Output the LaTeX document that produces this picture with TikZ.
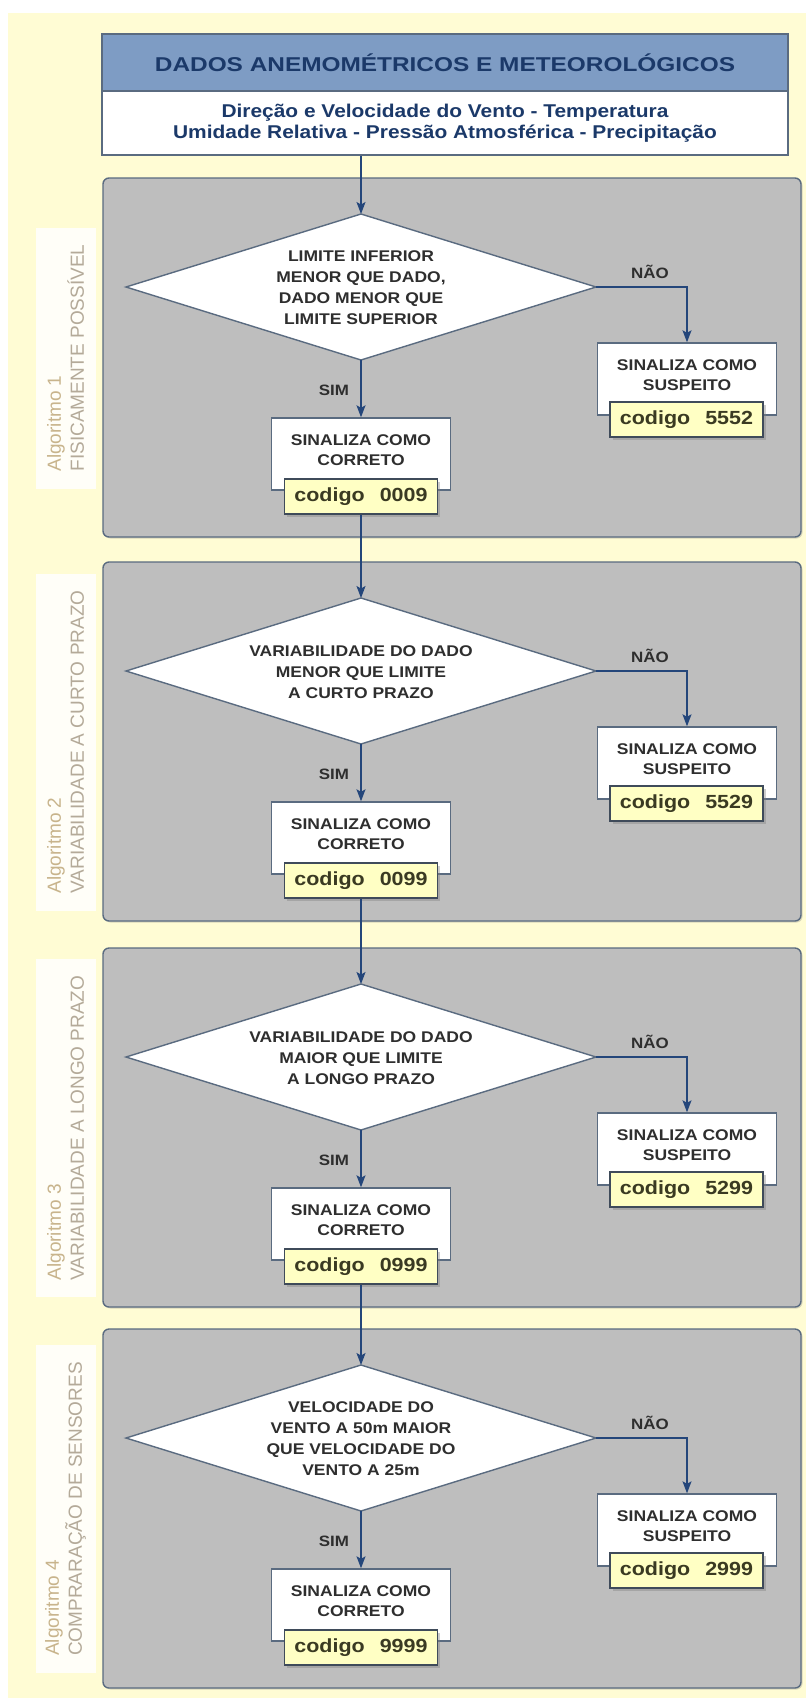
\documentclass[tikz,border=0pt]{standalone}
\usepackage{fontspec}
\setmainfont{Liberation Sans}[FakeStretch=1.13]
\newfontfamily\fonttitulo{Liberation Sans}[FakeStretch=1.22]
\newfontfamily\fontpainel{Liberation Sans}
\usetikzlibrary{arrows.meta,shadows}

\definecolor{fundo}{HTML}{FFFCD4}
\definecolor{faixa}{HTML}{7E9CC4}
\definecolor{tituloazul}{HTML}{1B3969}
\definecolor{borda}{HTML}{5A6B80}
\definecolor{cinzagrupo}{HTML}{BEBEBE}
\definecolor{ligacao}{HTML}{24467A}
\definecolor{textoescuro}{HTML}{2E2E2E}
\definecolor{amarelocod}{HTML}{FFFFC4}
\definecolor{textocod}{HTML}{3A3A22}
\definecolor{ouro}{HTML}{C8B48C}
\definecolor{bege}{HTML}{B4AA99}

% one algorithm block: #1 index, #2 y of the decision centre,
% #3 second panel line, #4 question, #5 suspect code, #6 correct code
\newcommand{\blocoalg}[6]{%
  \node[grupo] (g#1) at (452,#2+70.5) {};
  \node[painel] (p#1) at (65.5,#2+71)
    {\textcolor{ouro}{Algoritmo #1}\\\textcolor{bege}{#3}};
  % decision diamond
  \coordinate (dt#1) at (361,#2-73);
  \coordinate (dr#1) at (596,#2);
  \coordinate (db#1) at (361,#2+73);
  \coordinate (dl#1) at (126,#2);
  \draw[losango] (dt#1) -- (dr#1) -- (db#1) -- (dl#1) -- cycle;
  \node[textolosango] (dx#1) at (361,#2+1) {#4};
  % suspect branch
  \node[caixa] (s#1) at (687,#2+92) {};
  \node[textocaixa] (st#1) at (687,#2+88) {SINALIZA COMO\\SUSPEITO};
  \node[codigo] (sk#1) at (686.5,#2+132.5) {codigo\hspace{15pt}#5};
  % correct branch
  \node[caixa] (c#1) at (361,#2+167) {};
  \node[textocaixa] (ct#1) at (361,#2+163) {SINALIZA COMO\\CORRETO};
  \node[codigo] (ck#1) at (361,#2+209.5) {codigo\hspace{15pt}#6};
  \node[rotulo] (n#1) at (650,#2-15) {NÃO};
  \node[rotulo] (y#1) at (334,#2+103) {SIM};
  \draw[conn] (dr#1) -| (s#1.north);
  \draw[conn] (db#1) -- (c#1.north);
}

\begin{document}
\begin{tikzpicture}[x=1pt,y=-1pt,
  conn/.style={draw=ligacao, line width=1.3pt,
    -{Stealth[length=12pt,width=9pt,inset=2.5pt]}},
  grupo/.style={draw=borda, fill=cinzagrupo, line width=1.4pt,
    rounded corners=6pt, minimum width=698pt, minimum height=359pt,
    drop shadow={shadow xshift=1.5pt, shadow yshift=-1.5pt, opacity=0.3}},
  painel/.style={rotate=90, fill=white, fill opacity=0.85, text opacity=1,
    align=left, inner xsep=17pt, inner ysep=3pt, minimum height=60pt,
    font=\fontpainel\fontsize{19}{23}\selectfont},
  losango/.style={draw=borda, fill=white, line width=1.4pt},
  textolosango/.style={align=center, inner sep=0pt, text=textoescuro,
    font=\bfseries\fontsize{15.5}{21}\selectfont},
  caixa/.style={draw=borda, fill=white, line width=1.4pt,
    minimum width=179pt, minimum height=72pt, inner sep=0pt},
  textocaixa/.style={align=center, inner sep=0pt, text=textoescuro,
    font=\bfseries\fontsize{15.5}{20}\selectfont},
  codigo/.style={draw=borda!70!black, fill=amarelocod, line width=1.2pt,
    minimum width=153pt, minimum height=35pt, inner sep=0pt,
    text=textocod, font=\bfseries\fontsize{19}{22}\selectfont,
    drop shadow={shadow xshift=2.5pt, shadow yshift=-2.5pt, opacity=0.4}},
  rotulo/.style={text=textoescuro, inner sep=0pt,
    font=\bfseries\fontsize{15}{18}\selectfont},
  faixatitulo/.style={draw=borda, fill=faixa, line width=1.4pt,
    minimum width=686pt, minimum height=57pt, inner sep=0pt,
    text=tituloazul, font=\fonttitulo\bfseries\fontsize{20}{24}\selectfont},
  corpotitulo/.style={draw=borda, fill=white, line width=1.4pt,
    minimum width=686pt, minimum height=64pt, inner sep=0pt, align=center,
    text=tituloazul, font=\bfseries\fontsize{18.5}{21.5}\selectfont}
]
\useasboundingbox (0,0) rectangle (806,1698);
\fill[fundo] (8,13) rectangle (806,1698);

% header
\node[corpotitulo] (hb) at (445,123)
  {Direção e Velocidade do Vento - Temperatura\\
   Umidade Relativa - Pressão Atmosférica - Precipitação};
\node[faixatitulo] (ht) at (445,62.5) {DADOS ANEMOMÉTRICOS E METEOROLÓGICOS};

\blocoalg{1}{287}{FISICAMENTE POSSÍVEL}
  {LIMITE INFERIOR\\MENOR QUE DADO,\\DADO MENOR QUE\\LIMITE SUPERIOR}
  {5552}{0009}
\blocoalg{2}{671}{VARIABILIDADE A CURTO PRAZO}
  {VARIABILIDADE DO DADO\\MENOR QUE LIMITE\\A CURTO PRAZO}
  {5529}{0099}
\blocoalg{3}{1057}{VARIABILIDADE A LONGO PRAZO}
  {VARIABILIDADE DO DADO\\MAIOR QUE LIMITE\\A LONGO PRAZO}
  {5299}{0999}
\blocoalg{4}{1438}{COMPRARAÇÃO DE SENSORES}
  {VELOCIDADE DO\\VENTO A 50m MAIOR\\QUE VELOCIDADE DO\\VENTO A 25m}
  {2999}{9999}

% flow between the blocks
\draw[conn] (dt1 |- hb.south) -- (dt1);
\draw[conn] (ck1.south) -- (dt2);
\draw[conn] (ck2.south) -- (dt3);
\draw[conn] (ck3.south) -- (dt4);
\end{tikzpicture}
\end{document}
